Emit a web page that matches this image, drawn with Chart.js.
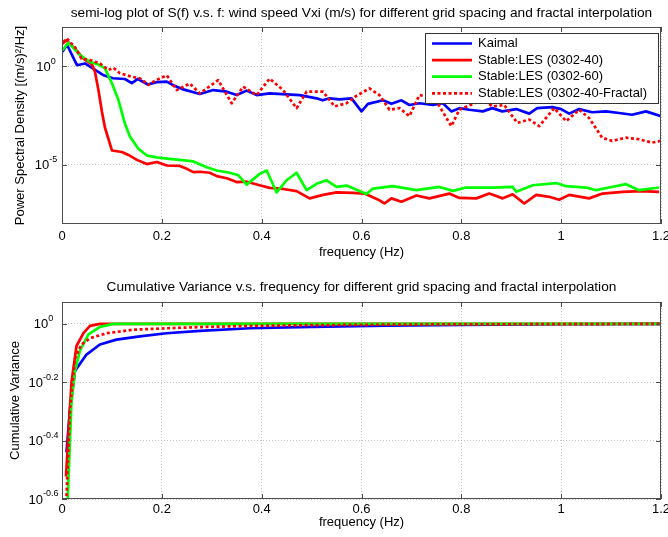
<!DOCTYPE html>
<html>
<head>
<meta charset="utf-8">
<script src="https://cdn.jsdelivr.net/npm/chart.js@4.4.0/dist/chart.umd.min.js"></script>
<style>
  html, body { margin: 0; padding: 0; background: #fff; }
  #wrap { position: relative; width: 668px; height: 537px; }
  canvas { position: absolute; left: 0; }
  #psdChart { top: 0; }
  #cvChart { top: 268px; }
</style>
</head>
<body>
<div id="wrap">
  <canvas id="psdChart" width="668" height="268"></canvas>
  <canvas id="cvChart" width="668" height="269"></canvas>
</div>
<script>
// ---- DATA --------------------------------------------------------------

// top panel: power spectral density, f in Hz, S(f) in (m/s)^2/Hz
const psdFreqKaimal = [0.001, 0.01, 0.03, 0.046, 0.082, 0.102, 0.126, 0.14, 0.152, 0.172, 0.19, 0.21, 0.223, 0.243, 0.276, 0.303, 0.33, 0.35, 0.37, 0.39, 0.416, 0.45, 0.476, 0.51, 0.522, 0.536, 0.556, 0.58, 0.6, 0.613, 0.643, 0.66, 0.68, 0.696, 0.716, 0.743, 0.763, 0.78, 0.796, 0.816, 0.843, 0.862, 0.882, 0.91, 0.936, 0.952, 0.982, 1.0, 1.016, 1.036, 1.062, 1.09, 1.116, 1.142, 1.17, 1.2];
const psdKaimal = [5.6, 12.6, 1.15, 1.41, 0.37, 0.25, 0.23, 0.14, 0.23, 0.12, 0.16, 0.17, 0.11, 0.068, 0.04, 0.063, 0.052, 0.035, 0.059, 0.035, 0.043, 0.038, 0.035, 0.024, 0.019, 0.024, 0.021, 0.024, 0.0052, 0.0126, 0.019, 0.0126, 0.019, 0.011, 0.0135, 0.011, 0.0135, 0.0052, 0.0076, 0.0063, 0.0052, 0.0076, 0.0052, 0.0068, 0.004, 0.0076, 0.0085, 0.0068, 0.004, 0.0068, 0.0047, 0.0052, 0.0043, 0.0035, 0.0052, 0.003];

const psdFreq40 = [0.001, 0.009, 0.026, 0.043, 0.06, 0.066, 0.073, 0.08, 0.086, 0.1, 0.12, 0.133, 0.15, 0.17, 0.19, 0.21, 0.236, 0.25, 0.263, 0.276, 0.296, 0.31, 0.33, 0.35, 0.37, 0.396, 0.416, 0.443, 0.47, 0.496, 0.523, 0.55, 0.583, 0.606, 0.636, 0.646, 0.66, 0.68, 0.71, 0.736, 0.776, 0.796, 0.83, 0.856, 0.883, 0.903, 0.926, 0.95, 0.976, 0.996, 1.016, 1.056, 1.083, 1.123, 1.16, 1.196];
const psdLes40 = [14, 21, 7.9, 2.5, 1.26, 0.54, 0.063, 0.005, 7.9e-4, 5.4e-5, 4.5e-5, 3.2e-5, 1.8e-5, 1.1e-5, 1.4e-5, 9.3e-6, 8.9e-6, 6.3e-6, 4.3e-6, 4.5e-6, 4.0e-6, 2.7e-6, 2.1e-6, 1.35e-6, 1.4e-6, 9.3e-7, 6.8e-7, 6.0e-7, 4.7e-7, 2.0e-7, 3.0e-7, 4.0e-7, 3.8e-7, 3.5e-7, 1.6e-7, 1.1e-7, 2.0e-7, 1.35e-7, 2.8e-7, 2.0e-7, 3.5e-7, 2.1e-7, 2.0e-7, 3.5e-7, 2.0e-7, 3.2e-7, 1.1e-7, 3.0e-7, 2.4e-7, 1.7e-7, 3.0e-7, 2.0e-7, 3.5e-7, 4.3e-7, 4.7e-7, 4.3e-7];

const psdFreq60 = [0.001, 0.013, 0.036, 0.056, 0.073, 0.086, 0.1, 0.113, 0.126, 0.136, 0.153, 0.17, 0.19, 0.21, 0.236, 0.263, 0.29, 0.31, 0.336, 0.353, 0.37, 0.396, 0.41, 0.43, 0.45, 0.47, 0.49, 0.51, 0.53, 0.55, 0.57, 0.61, 0.623, 0.663, 0.71, 0.756, 0.783, 0.81, 0.863, 0.903, 0.91, 0.943, 0.99, 1.01, 1.05, 1.07, 1.096, 1.13, 1.156, 1.196];
const psdLes60 = [6.6, 16, 3.7, 1.7, 1.26, 0.79, 0.14, 0.02, 1.26e-3, 2.8e-4, 6.6e-5, 3.0e-5, 2.4e-5, 2.1e-5, 1.8e-5, 1.5e-5, 7.6e-6, 5.2e-6, 4.0e-6, 3.0e-6, 1.0e-6, 3.5e-6, 5.2e-6, 4.0e-7, 1.66e-6, 4.0e-6, 5.2e-7, 1.1e-6, 1.66e-6, 7.6e-7, 8.9e-7, 3.3e-7, 6.3e-7, 8.3e-7, 5.2e-7, 7.6e-7, 4.8e-7, 7.1e-7, 7.1e-7, 7.6e-7, 4.3e-7, 9.3e-7, 1.2e-6, 8.3e-7, 7.1e-7, 5.2e-7, 7.1e-7, 1.05e-6, 5.2e-7, 7.1e-7];

const psdFreqFractal = [0.003, 0.009, 0.026, 0.039, 0.056, 0.076, 0.093, 0.103, 0.116, 0.139, 0.156, 0.173, 0.19, 0.21, 0.23, 0.256, 0.276, 0.313, 0.34, 0.363, 0.39, 0.416, 0.443, 0.47, 0.49, 0.523, 0.546, 0.57, 0.59, 0.616, 0.636, 0.656, 0.676, 0.696, 0.716, 0.746, 0.78, 0.796, 0.842, 0.863, 0.886, 0.912, 0.936, 0.956, 0.986, 1.01, 1.036, 1.056, 1.082, 1.102, 1.13, 1.156, 1.182, 1.2];
const psdFractal = [17, 27, 9.5, 2.5, 2.1, 1.41, 0.66, 0.85, 0.45, 0.3, 0.25, 0.117, 0.21, 0.35, 0.063, 0.135, 0.043, 0.2, 0.0135, 0.093, 0.035, 0.24, 0.063, 0.0076, 0.052, 0.052, 0.0093, 0.0135, 0.032, 0.076, 0.035, 0.0063, 0.0076, 0.003, 0.035, 0.025, 0.00093, 0.0063, 0.02, 0.0093, 0.011, 0.00135, 0.002, 0.00093, 0.0076, 0.00166, 0.0063, 0.0024, 0.00024, 0.000166, 0.00024, 0.0002, 0.000135, 0.000166];

// bottom panel: cumulative variance (normalised)
const cvFreqKaimal = [0.009, 0.016, 0.026, 0.036, 0.049, 0.076, 0.109, 0.156, 0.209, 0.276, 0.376, 0.5, 0.65, 0.8, 1.0, 1.2];
const cvKaimal = [0.363, 0.51, 0.69, 0.73, 0.785, 0.85, 0.883, 0.906, 0.929, 0.946, 0.966, 0.977, 0.986, 0.993, 0.997, 1.0];
const cvFreq40 = [0.008, 0.019, 0.029, 0.043, 0.056, 0.076, 1.2];
const cvLes40 = [0.3, 0.63, 0.84, 0.93, 0.984, 1.0, 1.0];
const cvFreq60 = [0.011, 0.019, 0.026, 0.036, 0.053, 0.076, 0.103, 1.2];
const cvLes60 = [0.24, 0.54, 0.69, 0.81, 0.92, 0.977, 1.0, 1.0];
const cvFreqFractal = [0.009, 0.016, 0.026, 0.039, 0.056, 0.089, 0.143, 0.209, 0.276, 0.376, 0.5, 0.7, 1.2];
const cvFractal = [0.257, 0.51, 0.76, 0.85, 0.893, 0.929, 0.955, 0.966, 0.975, 0.984, 0.99, 0.995, 1.0];

const seriesNames = ['Kaimal', 'Stable:LES (0302-40)', 'Stable:LES (0302-60)', 'Stable:LES (0302-40-Fractal)'];
const xTicks = [0, 0.2, 0.4, 0.6, 0.8, 1, 1.2];
const psdTickExps = [-5, 0];
const cvTickExps = [-0.6, -0.4, -0.2, 0];

// ---- helpers -----------------------------------------------------------
const FONT = '"Liberation Sans", Arial, Helvetica, sans-serif';
Chart.defaults.font.family = FONT;
Chart.defaults.color = '#000';

function pairs(xs, ys) {
    return xs.map((x, i) => ({ x: x, y: ys[i] }));
}

function makeSets(k, l40, l60, fr) {
    const style = [
        { c: '#0000ff', d: [] },
        { c: '#ff0000', d: [] },
        { c: '#00ff00', d: [] },
        { c: '#ff0000', d: [3, 2.5] }
    ];
    return [k, l40, l60, fr].map((pts, i) => ({
        label: seriesNames[i],
        data: pts,
        borderColor: style[i].c,
        borderDash: style[i].d,
        borderWidth: 2.7,
        borderJoinStyle: 'round',
        pointRadius: 0,
        tension: 0,
        fill: false,
        order: 4 - i // fractal on top, like the original plot order
    }));
}

// matlab-like decorations: box, inward ticks, title, 10^x labels, legend
const matlabAxes = {
    id: 'matlabAxes',
    afterDatasetsDraw(chart, args, o) {
        const { ctx, chartArea: a } = chart;
        const xs = chart.scales.x, ys = chart.scales.y;
        ctx.save();

        ctx.strokeStyle = '#4d4d4d';
        ctx.lineWidth = 1;
        ctx.strokeRect(a.left + 0.5, a.top + 0.5, a.width - 1, a.height - 1);
        ctx.beginPath();
        xs.ticks.forEach(t => {
            const px = Math.round(xs.getPixelForValue(t.value)) + 0.5;
            ctx.moveTo(px, a.bottom); ctx.lineTo(px, a.bottom - 5);
            ctx.moveTo(px, a.top); ctx.lineTo(px, a.top + 5);
        });
        ys.ticks.forEach(t => {
            const py = Math.round(ys.getPixelForValue(t.value)) + 0.5;
            ctx.moveTo(a.left, py); ctx.lineTo(a.left + 5, py);
            ctx.moveTo(a.right, py); ctx.lineTo(a.right - 5, py);
        });
        ctx.stroke();

        // title
        ctx.fillStyle = '#000';
        ctx.font = '13.7px ' + FONT;
        ctx.textAlign = 'center';
        ctx.textBaseline = 'middle';
        ctx.fillText(o.title, (a.left + a.right) / 2, o.titleY);

        // y tick labels as 10 with superscript exponent
        ctx.textAlign = 'left';
        o.exps.forEach(e => {
            const py = ys.getPixelForValue(Math.pow(10, e));
            const sup = String(e);
            ctx.font = '13px ' + FONT;
            const w1 = ctx.measureText('10').width;
            ctx.font = '9px ' + FONT;
            const w2 = ctx.measureText(sup).width;
            const x0 = o.labelX - (w1 + w2) / 2;
            ctx.font = '13px ' + FONT;
            ctx.fillText('10', x0, py + 1);
            ctx.font = '9px ' + FONT;
            ctx.fillText(sup, x0 + w1, py - 5);
        });

        // legend box
        if (o.legend) {
            const L = o.legend;
            ctx.fillStyle = '#fff';
            ctx.fillRect(L.left, L.top, L.width, L.height);
            ctx.strokeStyle = '#333';
            ctx.lineWidth = 1;
            ctx.strokeRect(L.left + 0.5, L.top + 0.5, L.width, L.height);
            chart.data.datasets.forEach((ds, i) => {
                const yy = L.top + L.first + i * L.step;
                ctx.strokeStyle = ds.borderColor;
                ctx.lineWidth = ds.borderWidth;
                ctx.setLineDash(ds.borderDash);
                ctx.beginPath();
                ctx.moveTo(L.left + 7, yy);
                ctx.lineTo(L.left + 47, yy);
                ctx.stroke();
                ctx.setLineDash([]);
                ctx.fillStyle = '#000';
                ctx.font = '13px ' + FONT;
                ctx.textAlign = 'left';
                ctx.fillText(ds.label, L.left + 53, yy);
            });
        }
        ctx.restore();
    }
};

function makeChart(id, datasets, c) {
    return new Chart(document.getElementById(id), {
        type: 'line',
        data: { datasets: datasets },
        plugins: [matlabAxes],
        options: {
            responsive: false,
            animation: false,
            layout: { padding: { top: c.top, right: 7, left: 0, bottom: 0 } },
            plugins: {
                legend: { display: false },
                tooltip: { enabled: false },
                matlabAxes: c.deco
            },
            scales: {
                x: {
                    type: 'linear',
                    min: 0,
                    max: 1.2,
                    afterBuildTicks: s => { s.ticks = xTicks.map(v => ({ value: v })); },
                    afterFit: s => { s.height = c.xHeight; s.paddingLeft = 0; s.paddingRight = 0; },
                    ticks: { font: { size: 13 }, padding: c.xTickPad, maxRotation: 0, callback: v => String(v) },
                    grid: { color: '#c4c4c4', drawTicks: false },
                    border: { display: false, dash: [1, 2] },
                    title: { display: true, text: 'frequency (Hz)', font: { size: 13 }, padding: { top: 0, bottom: c.xTitlePad } }
                },
                y: {
                    type: 'logarithmic',
                    min: c.yMin,
                    max: c.yMax,
                    afterBuildTicks: s => { s.ticks = c.deco.exps.map(e => ({ value: Math.pow(10, e) })); },
                    afterFit: s => { s.width = 62; },
                    ticks: { display: false },
                    grid: { color: '#c4c4c4', drawTicks: false },
                    border: { display: false, dash: [1, 2] },
                    title: { display: true, text: c.yTitle, font: { size: 13 }, padding: { top: c.yTitlePad, bottom: 0 } }
                }
            }
        }
    });
}

// ---- top: semi-log PSD --------------------------------------------------
makeChart('psdChart', makeSets(
    pairs(psdFreqKaimal, psdKaimal),
    pairs(psdFreq40, psdLes40),
    pairs(psdFreq60, psdLes60),
    pairs(psdFreqFractal, psdFractal)
), {
    top: 27, xHeight: 44, xTickPad: 5, xTitlePad: 8,
    yMin: 1e-8, yMax: 100,
    yTitle: 'Power Spectral Density [(m/s)\u00B2/Hz]', yTitlePad: 13,
    deco: {
        title: 'semi-log plot of S(f) v.s. f: wind speed Vxi (m/s) for different grid spacing and fractal interpolation',
        titleY: 13.5,
        exps: psdTickExps,
        labelX: 46,
        legend: { left: 425, top: 33, width: 233, height: 70, first: 10.5, step: 16.6 }
    }
});

// ---- bottom: cumulative variance ---------------------------------------
makeChart('cvChart', makeSets(
    pairs(cvFreqKaimal, cvKaimal),
    pairs(cvFreq40, cvLes40),
    pairs(cvFreq60, cvLes60),
    pairs(cvFreqFractal, cvFractal)
), {
    top: 34, xHeight: 38, xTickPad: 3, xTitlePad: 7,
    yMin: Math.pow(10, -0.6), yMax: Math.pow(10, 0.075),
    yTitle: 'Cumulative Variance', yTitlePad: 7.5,
    deco: {
        title: 'Cumulative Variance v.s. frequency for different grid spacing and fractal interpolation',
        titleY: 19,
        exps: cvTickExps,
        labelX: 43.5,
        legend: null
    }
});
</script>
</body>
</html>
